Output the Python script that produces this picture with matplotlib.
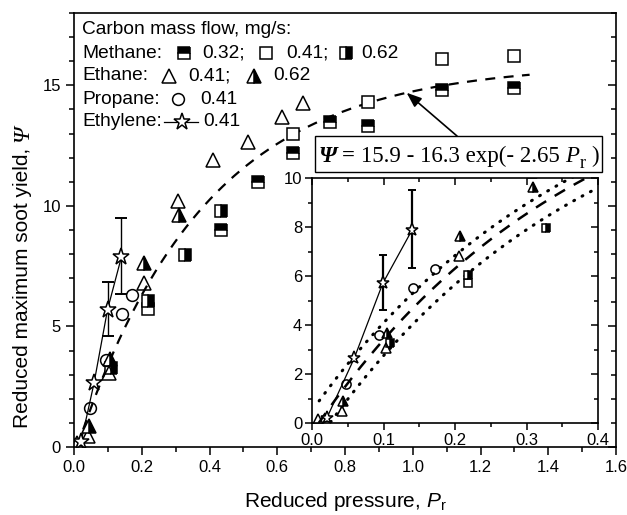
import numpy as np
import matplotlib
matplotlib.use("Agg")
import matplotlib.pyplot as plt
from matplotlib.lines import Line2D
from matplotlib.patches import Rectangle
from matplotlib.ticker import MultipleLocator, FormatStrFormatter
from matplotlib.font_manager import FontProperties
import matplotlib.lines as mlines

plt.rcParams['font.family'] = ['Liberation Sans', 'DejaVu Sans']
plt.rcParams['mathtext.fontset'] = 'custom'
plt.rcParams['mathtext.rm'] = 'Liberation Serif'
plt.rcParams['mathtext.it'] = 'Liberation Serif:italic'
plt.rcParams['mathtext.sf'] = 'Liberation Sans'
plt.rcParams['mathtext.cal'] = 'Liberation Sans:italic'

# ---------------- data ----------------
methane_032_x = [0.434, 0.543, 0.646, 0.755, 0.867, 1.086, 1.30]
methane_032_y = [9.0, 11.0, 12.2, 13.5, 13.3, 14.8, 14.9]
methane_041_x = [0.218, 0.646, 0.867, 1.086, 1.30]
methane_041_y = [5.72, 13.0, 14.3, 16.1, 16.2]
methane_062_x = [0.109, 0.218, 0.327, 0.434]
methane_062_y = [3.27, 6.04, 7.96, 9.8]
ethane_041_x = [0.008, 0.042, 0.103, 0.206, 0.307, 0.41, 0.513, 0.614, 0.676]
ethane_041_y = [0.15, 0.47, 3.05, 6.8, 10.2, 11.9, 12.65, 13.7, 14.25]
ethane_062_x = [0.043, 0.105, 0.207, 0.309]
ethane_062_y = [0.88, 3.67, 7.63, 9.63]
propane_041_x = [0.047, 0.094, 0.141, 0.172]
propane_041_y = [1.6, 3.6, 5.5, 6.3]
ethylene_041_x = [0.021, 0.059, 0.099, 0.14]
ethylene_041_y = [0.22, 2.64, 5.7, 7.88]
ethylene_err_lo = [0.0, 0.0, 1.1, 1.55]
ethylene_err_hi = [0.0, 0.0, 1.15, 1.62]

# fit  Psi = A - B exp(-k Pr) and the two dotted bands
fit_A, fit_B, fit_k = 15.9, 16.3, 2.65
upper_A, upper_B = 15.9, 15.4
lower_A, lower_B = 15.25, 16.3

def model(x, A, B, k):
    return A - B * np.exp(-k * x)

W, H = 627, 515
def P(x, y):
    return (x / W, 1 - y / H)

fig = plt.figure(figsize=(W / 100, H / 100), dpi=100)
ax = fig.add_axes([74 / W, 1 - 447 / H, (616 - 74) / W, (447 - 13) / H])

ms_sq, ms_tri, ms_circ, ms_star = 8, 10, 8.5, 12.5
mew = 1.1

def draw_points(a, scale=1.0):
    kw = dict(linestyle='none', markeredgecolor='black', markeredgewidth=mew, zorder=4)
    a.plot(methane_041_x, methane_041_y, marker='s', ms=ms_sq * scale, markerfacecolor='white', **kw)
    a.plot(methane_032_x, methane_032_y, marker='s', ms=ms_sq * scale, fillstyle='top',
           markerfacecolor='black', markerfacecoloralt='white', **kw)
    a.plot(methane_062_x, methane_062_y, marker='s', ms=ms_sq * scale, fillstyle='right',
           markerfacecolor='black', markerfacecoloralt='white', **kw)
    a.plot(ethane_041_x, ethane_041_y, marker='^', ms=ms_tri * scale, markerfacecolor='none', **kw)
    a.plot(ethane_062_x, ethane_062_y, marker='^', ms=ms_tri * scale, fillstyle='right',
           markerfacecolor='black', markerfacecoloralt='white', **kw)
    a.plot(propane_041_x, propane_041_y, marker='o', ms=ms_circ * scale, markerfacecolor='none', **kw)
    ex = np.array(ethylene_041_x); ey = np.array(ethylene_041_y)
    lo = np.array(ethylene_err_lo); hi = np.array(ethylene_err_hi)
    m = (lo > 0) | (hi > 0)
    a.errorbar(ex[m], ey[m], yerr=[lo[m], hi[m]], fmt='none', ecolor='black',
               elinewidth=1.6 if scale < 1 else 1.0, capsize=4 * scale, capthick=1.4, zorder=3)
    a.plot(ex, ey, color='black', lw=0.9, zorder=3)
    a.plot(ex, ey, linestyle='none', marker='*', ms=ms_star * scale, markerfacecolor='white',
           markeredgecolor='black', markeredgewidth=mew, zorder=5)

# main fit curve
xf = np.linspace(0.0094, 1.345, 300)
ax.plot(xf, model(xf, fit_A, fit_B, fit_k), color='black', lw=1.6, dashes=(4.5, 3.8), zorder=2)
draw_points(ax)

ax.set_xlim(0, 1.6)
ax.set_ylim(0, 18)
ax.xaxis.set_major_locator(MultipleLocator(0.2))
ax.xaxis.set_minor_locator(MultipleLocator(0.1))
ax.yaxis.set_major_locator(MultipleLocator(5))
ax.yaxis.set_minor_locator(MultipleLocator(1))
ax.xaxis.set_major_formatter(FormatStrFormatter('%.1f'))
ax.tick_params(which='both', direction='out', top=False, right=True, labelsize=12, width=1.1)
ax.tick_params(which='major', length=6)
ax.tick_params(which='minor', length=3.5)
for sp in ax.spines.values():
    sp.set_linewidth(1.2)
for t in ax.yaxis.get_major_ticks() + ax.yaxis.get_minor_ticks():
    t.tick2line.set_marker(mlines.TICKLEFT)

ax.set_xlabel(r'Reduced pressure, $\mathcal{P}_\mathsf{r}$', fontsize=15, labelpad=11)

# legend block (text + markers)
fs = 13.8
rows = [30, 53, 76, 99, 122]
fig.text(*P(82, rows[0]), 'Carbon mass flow, mg/s:', fontsize=fs, va='center')
fig.text(*P(82, rows[1]), 'Methane:', fontsize=fs, va='center')
fig.text(*P(82, rows[2]), 'Ethane:', fontsize=fs, va='center')
fig.text(*P(82, rows[3]), 'Propane:', fontsize=fs, va='center')
fig.text(*P(82, rows[4]), 'Ethylene:', fontsize=fs, va='center')

def leg_marker(x, y, **kw):
    fx, fy = P(x, y)
    fig.add_artist(Line2D([fx], [fy], transform=fig.transFigure, linestyle='none',
                          markeredgecolor='black', markeredgewidth=mew, **kw))

leg_marker(184, rows[1], marker='s', ms=ms_sq, fillstyle='top', markerfacecolor='black', markerfacecoloralt='white')
fig.text(*P(202, rows[1]), '0.32;', fontsize=fs, va='center')
leg_marker(266, rows[1], marker='s', ms=ms_sq, markerfacecolor='white')
fig.text(*P(286, rows[1]), '0.41;', fontsize=fs, va='center')
leg_marker(346, rows[1], marker='s', ms=ms_sq, fillstyle='right', markerfacecolor='black', markerfacecoloralt='white')
fig.text(*P(361, rows[1]), '0.62', fontsize=fs, va='center')

leg_marker(169, rows[2], marker='^', ms=ms_tri, markerfacecolor='none')
fig.text(*P(188, rows[2]), '0.41;', fontsize=fs, va='center')
leg_marker(254, rows[2], marker='^', ms=ms_tri, fillstyle='right', markerfacecolor='black', markerfacecoloralt='white')
fig.text(*P(273, rows[2]), '0.62', fontsize=fs, va='center')

leg_marker(178, rows[3], marker='o', ms=ms_circ, markerfacecolor='none')
fig.text(*P(200, rows[3]), '0.41', fontsize=fs, va='center')

lx0, ly = P(164, rows[4]); lx1, _ = P(198, rows[4])
fig.add_artist(Line2D([lx0, lx1], [ly, ly], transform=fig.transFigure, color='black', lw=0.9))
leg_marker(182, rows[4], marker='*', ms=ms_star, markerfacecolor='white')
fig.text(*P(203, rows[4]), '0.41', fontsize=fs, va='center')

# inset
ins = fig.add_axes([312 / W, 1 - 423 / H, (598 - 312) / W, (423 - 178) / H])
ins.set_facecolor('white')
xi = np.linspace(0.0094, 0.4, 200)
ins.plot(xi, model(xi, fit_A, fit_B, fit_k), color='black', lw=1.8, dashes=(4.8, 4.0), zorder=2)
dot_style = (0, (0.3, 2.8))
xu = np.linspace(0.01, 0.4, 200)
ins.plot(xu, model(xu, upper_A, upper_B, fit_k), color='black', lw=2.2, linestyle=dot_style,
         dash_capstyle='round', zorder=2)
xl = np.linspace(0.026, 0.4, 200)
ins.plot(xl, model(xl, lower_A, lower_B, fit_k), color='black', lw=2.2, linestyle=dot_style,
         dash_capstyle='round', zorder=2)
draw_points(ins, scale=0.78)
ins.set_xlim(0, 0.4)
ins.set_ylim(0, 10)
ins.xaxis.set_major_locator(MultipleLocator(0.1))
ins.xaxis.set_minor_locator(MultipleLocator(0.05))
ins.yaxis.set_major_locator(MultipleLocator(2))
ins.yaxis.set_minor_locator(MultipleLocator(1))
ins.xaxis.set_major_formatter(FormatStrFormatter('%.1f'))
ins.tick_params(which='both', direction='out', top=True, right=True, labelsize=12, width=1.1, pad=2)
ins.tick_params(which='major', length=5)
ins.tick_params(which='minor', length=3)
for t in ins.yaxis.get_major_ticks() + ins.yaxis.get_minor_ticks():
    t.tick2line.set_marker(mlines.TICKLEFT)
for t in ins.xaxis.get_major_ticks() + ins.xaxis.get_minor_ticks():
    t.tick2line.set_marker(mlines.TICKDOWN)
for sp in ins.spines.values():
    sp.set_linewidth(1.2)

# ---- text laid out piece by piece (needs a renderer) ----
fig.canvas.draw()
rend = fig.canvas.get_renderer()

# y label: sans text + italic serif Psi
ylab_fs = 15
yl = fig.text(28 / W, 1 - 428 / H, 'Reduced maximum soot yield,', fontsize=ylab_fs,
              rotation=90, rotation_mode='anchor', ha='left', va='baseline')
bb = yl.get_window_extent(renderer=rend)
fig.text(28 / W, (bb.y1 + 6) / H, '\u03A8', rotation=90, rotation_mode='anchor', ha='left',
         va='baseline', fontproperties=FontProperties(family='Liberation Serif', style='italic',
                                                      size=ylab_fs + 2))

# formula box
rect_x0, rect_x1, rect_y0, rect_y1 = 315, 602, 136, 172
fig.add_artist(Rectangle(P(rect_x0, rect_y1), (rect_x1 - rect_x0) / W, (rect_y1 - rect_y0) / H,
                         transform=fig.transFigure, fc='white', ec='black', lw=1.0, zorder=10))
ffs = 16.5
serif = FontProperties(family='Liberation Serif', size=ffs)
serif_it = FontProperties(family='Liberation Serif', style='italic', size=ffs)
serif_bi = FontProperties(family='Liberation Serif', style='italic', weight='bold', size=ffs)
serif_b = FontProperties(family='Liberation Serif', weight='bold', size=ffs)
serif_sub = FontProperties(family='Liberation Serif', size=ffs * 0.8)
space = ffs * 100 / 72 * 0.25
pieces = [('\u03A8', serif_bi, 0, 0), ('=', serif_b, 0, space * 0.8),
          ('15.9 - 16.3 exp(- 2.65', serif, 0, space), ('P', serif_it, 0, space),
          ('r', serif_sub, 6, 0.5), (')', serif, 0, space)]
xcur = 319
base = 162
for s, fp, dy, gap in pieces:
    xcur += gap
    t = fig.text(xcur / W, 1 - (base + dy) / H, s, fontproperties=fp, ha='left', va='baseline',
                 zorder=11)
    xcur += t.get_window_extent(renderer=rend).width

xt = 0.982
ax.annotate('', xy=(xt, model(xt, fit_A, fit_B, fit_k)), xytext=P(457, 136),
            textcoords='figure fraction',
            arrowprops=dict(arrowstyle='-|>,head_length=0.9,head_width=0.35', color='black', lw=1.2,
                            shrinkA=0, shrinkB=0))

fig.savefig('out.png', dpi=100)
